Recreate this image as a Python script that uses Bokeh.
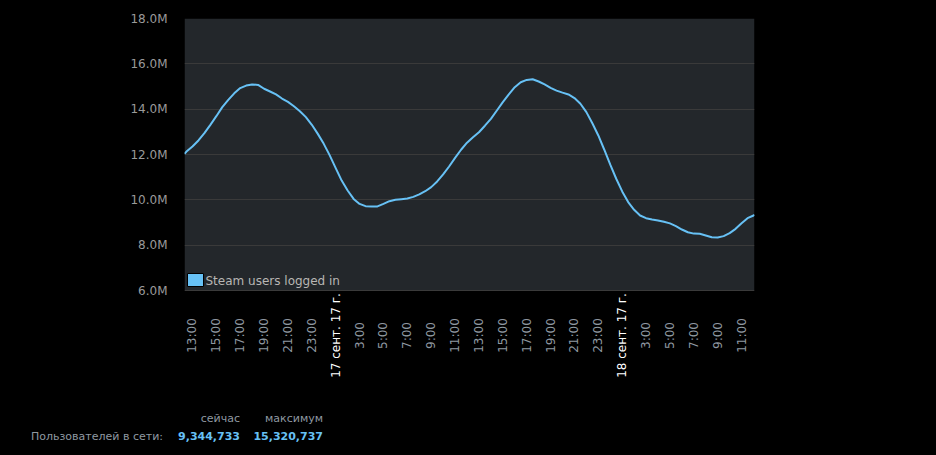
import pandas as pd
from bokeh.plotting import figure
from bokeh.layouts import column
from bokeh.models import (Range1d, FixedTicker, Label, BoxAnnotation, ColumnDataSource, Div)
from bokeh.embed import file_html
from bokeh.resources import INLINE

# ---- data ----
# sample times: 16 Sep 12:20, every half hour 12:30 .. 18 Sep 12:00, then 18 Sep 12:05
times = (["2017-09-16 12:20"]
         + [t.strftime("%Y-%m-%d %H:%M")
            for t in pd.date_range("2017-09-16 12:30", "2017-09-18 12:00", freq="30min")]
         + ["2017-09-18 12:05"])

users_m = [
    12.03,
    12.13, 12.35, 12.62, 12.94, 13.31, 13.69, 14.09, 14.41, 14.70, 14.93, 15.04,          # 12:30-17:30
    15.09, 15.07, 14.90, 14.78, 14.65, 14.47, 14.32, 14.13, 13.91, 13.65, 13.31, 12.91,   # 18:00-23:30
    12.47, 11.96, 11.40, 10.85, 10.41, 10.04, 9.82, 9.72, 9.71, 9.71, 9.82, 9.94,         # 17 Sep 00-05:30
    10.00, 10.03, 10.06, 10.13, 10.24, 10.38, 10.56, 10.81, 11.12, 11.47, 11.85, 12.21,   # 06-11:30
    12.52, 12.76, 12.98, 13.27, 13.57, 13.94, 14.31, 14.65, 14.97, 15.19, 15.29, 15.32,   # 12-17:30
    15.22, 15.09, 14.94, 14.82, 14.73, 14.65, 14.49, 14.24, 13.87, 13.38, 12.84, 12.21,   # 18-23:30
    11.55, 10.93, 10.37, 9.90, 9.56, 9.31, 9.19, 9.13, 9.09, 9.03, 8.96, 8.84,            # 18 Sep 00-05:30
    8.69, 8.57, 8.51, 8.50, 8.43, 8.35, 8.34, 8.40, 8.53, 8.72, 8.97, 9.19,               # 06-11:30
    9.31, 9.34,                                                                           # 12:00, 12:05
]

y_ticks = [6, 8, 10, 12, 14, 16, 18]
y_tick_labels = ["6.0M", "8.0M", "10.0M", "12.0M", "14.0M", "16.0M", "18.0M"]

x_tick_times = [
    "2017-09-16 13:00", "2017-09-16 15:00", "2017-09-16 17:00", "2017-09-16 19:00",
    "2017-09-16 21:00", "2017-09-16 23:00", "2017-09-17 01:00", "2017-09-17 03:00",
    "2017-09-17 05:00", "2017-09-17 07:00", "2017-09-17 09:00", "2017-09-17 11:00",
    "2017-09-17 13:00", "2017-09-17 15:00", "2017-09-17 17:00", "2017-09-17 19:00",
    "2017-09-17 21:00", "2017-09-17 23:00", "2017-09-18 01:00", "2017-09-18 03:00",
    "2017-09-18 05:00", "2017-09-18 07:00", "2017-09-18 09:00", "2017-09-18 11:00",
]
x_tick_labels = [
    "13:00", "15:00", "17:00", "19:00", "21:00", "23:00", "17 сент. 17 г.", "3:00",
    "5:00", "7:00", "9:00", "11:00", "13:00", "15:00", "17:00", "19:00",
    "21:00", "23:00", "18 сент. 17 г.", "3:00", "5:00", "7:00", "9:00", "11:00",
]
x_tick_is_date = [lbl.endswith(" г.") for lbl in x_tick_labels]

series_name = "Steam users logged in"
stat_headers = ["сейчас", "максимум"]
stat_row_label = "Пользователей в сети:"
stat_values = ["9,344,733", "15,320,737"]


def ms(t):
    return pd.Timestamp(t).value / 1e6


# ---- layout geometry (pixels) ----
FIG_W, FIG_H = 936, 400
PLOT_L, PLOT_R, PLOT_T, PLOT_B = 184, 754, 18, 290     # dark plot area
Y_MIN, Y_MAX = min(y_ticks), max(y_ticks)
M_PER_PX = (Y_MAX - Y_MIN) / (PLOT_B - PLOT_T)


def ydata(page_y):
    return Y_MAX - (page_y - PLOT_T) * M_PER_PX


FONT = "DejaVu Sans"
p = figure(width=FIG_W, height=FIG_H, output_backend="svg", toolbar_location=None,
           x_axis_type="datetime",
           x_range=Range1d(ms(times[0]), ms(times[-1])),
           y_range=Range1d(ydata(FIG_H), Y_MAX),
           min_border_left=PLOT_L, min_border_right=FIG_W - PLOT_R,
           min_border_top=PLOT_T, min_border_bottom=0,
           background_fill_color="#000000", border_fill_color="#000000",
           outline_line_color=None)

# dark plot area
p.add_layout(BoxAnnotation(bottom=Y_MIN, top=Y_MAX, fill_color="#23272b", fill_alpha=1,
                           line_color=None, level="image"))

p.xaxis.visible = False
p.xgrid.visible = False
p.ygrid.grid_line_color = "#3a3a3a"
p.ygrid.grid_line_width = 1
p.yaxis.ticker = FixedTicker(ticks=y_ticks)
p.yaxis.major_label_overrides = {t: l for t, l in zip(y_ticks, y_tick_labels)}
p.yaxis.axis_line_color = None
p.yaxis.major_tick_line_color = None
p.yaxis.minor_tick_line_color = None
p.yaxis.major_label_standoff = 11
p.yaxis.major_label_text_color = "#9a9a9a"
p.yaxis.major_label_text_font = FONT
p.yaxis.major_label_text_font_size = "12px"

src = ColumnDataSource(dict(x=[pd.Timestamp(t) for t in times], y=users_m))
line = p.line("x", "y", source=src, line_color="#67c1f5", line_width=2)

# legend: swatch + label (bottom-left inside the plot area)
p.add_layout(BoxAnnotation(left=3, right=19, bottom=ydata(286), top=ydata(273),
                           left_units="screen", right_units="screen",
                           fill_color="#67c1f5", fill_alpha=1,
                           line_color="#000000", line_width=1, line_alpha=1))
p.add_layout(Label(x=21, y=ydata(280), x_units="screen", text=series_name,
                   text_align="left", text_baseline="middle",
                   text_font=FONT, text_font_size="12px", text_color="#b8b6b4"))

# x tick labels (vertical, centred)
for t, lbl, is_date in zip(x_tick_times, x_tick_labels, x_tick_is_date):
    p.add_layout(Label(x=ms(t), y=ydata(335), text=lbl, angle=1.5707963, angle_units="rad",
                       text_align="center", text_baseline="middle",
                       text_font=FONT, text_font_size="12px",
                       text_color="#ffffff" if is_date else "#8f98a0"))

# stats block below the chart
DIV_H = 455 - FIG_H
spans = []
for right_x, h in zip([240, 323], stat_headers):
    spans.append(f'<span style="position:absolute;right:{936 - right_x}px;top:{419 - FIG_H - 7}px;'
                 f'line-height:14px;color:#8f98a0;">{h}</span>')
for right_x, v in zip([240, 323], stat_values):
    spans.append(f'<span style="position:absolute;right:{936 - right_x}px;top:{437 - FIG_H - 7}px;'
                 f'line-height:14px;color:#67c1f5;font-weight:bold;">{v}</span>')
spans.append(f'<span style="position:absolute;right:{936 - 163}px;top:{437 - FIG_H - 7}px;'
             f'line-height:14px;color:#8f98a0;">{stat_row_label}</span>')
stats = Div(text=f'<div style="position:relative;width:936px;height:{DIV_H}px;'
                 f'font-family:\'DejaVu Sans\';font-size:11px;white-space:nowrap;">'
                 + "".join(spans) + "</div>",
            width=936, height=DIV_H,
            styles={"background-color": "#000000", "margin": "0", "padding": "0"})

layout = column(p, stats, spacing=0, styles={"background-color": "#000000"})

open("out.html", "w").write(file_html(layout, INLINE))
